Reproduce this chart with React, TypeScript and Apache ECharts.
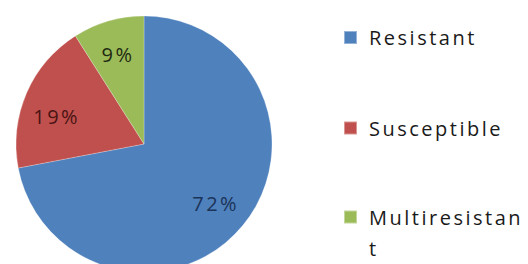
import React, { useEffect, useRef } from "react";
import * as echarts from "echarts";

const categories = ["Resistant", "Susceptible", "Multiresistant"];
const shares = [72, 19, 9];
const sliceColors = ["#4F81BD", "#C0504D", "#9BBB59"];
const labelColors = ["#1b3358", "#4a1414", "#1f2a12"];
const labelNudges = [[0, 0], [-2, 9], [0, 0]];

export default function App() {
  const ref = useRef<HTMLDivElement>(null);
  useEffect(() => {
    if (!ref.current) return;
    const chart = echarts.init(ref.current, undefined, { renderer: "svg" });
    const sliceData = categories.map((name, i) => ({
      name,
      value: shares[i],
      itemStyle: { color: sliceColors[i] },
    }));
    const labelData = categories.map((name, i) => ({
      name,
      value: shares[i],
      label: { color: labelColors[i], offset: labelNudges[i] },
    }));
    const legendText = {
      fontFamily: "Open Sans",
      fontSize: 20,
      color: "#1a1a1a",
      padding: [0, 0, 0, 7],
    };
    const mkLegend = (name: string, top: number, extra: any = {}) => ({
      orient: "vertical",
      left: 343,
      top,
      padding: 0,
      itemWidth: 13,
      itemHeight: 13,
      icon: "rect",
      selectedMode: false,
      data: [name],
      textStyle: { ...legendText, ...extra },
    });
    const multiLegend: any = mkLegend(categories[2], 170.5, {
      width: 125,
      overflow: "breakAll",
      lineHeight: 31,
    });
    multiLegend.formatter = (name: string) => "\n" + name;
    chart.setOption({
      animation: false,
      backgroundColor: "#ffffff",
      legend: [
        mkLegend(categories[0], 27.5),
        mkLegend(categories[1], 118),
        multiLegend,
      ],
      series: [
        {
          type: "pie",
          center: [144, 144],
          radius: [0, 128],
          startAngle: 90,
          clockwise: true,
          silent: true,
          label: { show: false },
          labelLine: { show: false },
          itemStyle: { borderColor: "rgba(255,255,255,0.4)", borderWidth: 0.6 },
          data: sliceData,
        },
        {
          type: "pie",
          center: [144, 144],
          radius: [52, 128],
          startAngle: 90,
          clockwise: true,
          silent: true,
          itemStyle: { color: "rgba(0,0,0,0)", borderWidth: 0 },
          label: {
            show: true,
            position: "inside",
            formatter: "{c}%",
            fontFamily: "Open Sans",
            fontSize: 20,
          },
          labelLine: { show: false },
          data: labelData,
        },
      ],
    });
    return () => chart.dispose();
  }, []);
  return (
    <div
      ref={ref}
      style={{
        position: "absolute",
        left: 0,
        top: 0,
        width: 528,
        height: 264,
        letterSpacing: "2.5px",
        background: "#fff",
      }}
    />
  );
}
